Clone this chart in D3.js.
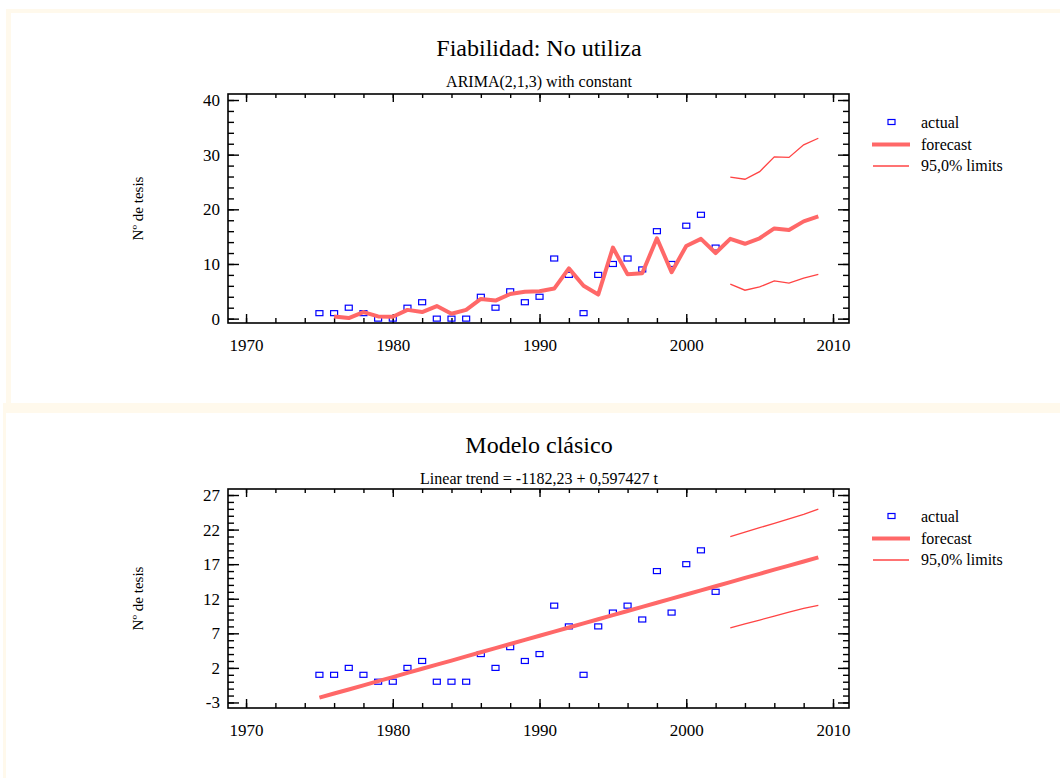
<!DOCTYPE html>
<html>
<head>
<meta charset="utf-8">
<script src="https://cdn.jsdelivr.net/npm/d3@7"></script>
<style>
  html, body { margin: 0; padding: 0; background: #ffffff; }
  svg { display: block; }
  text { font-family: "Liberation Serif", "Times New Roman", serif; fill: #000; }
</style>
</head>
<body>
<svg id="chart" width="1060" height="778"></svg>
<script>
// ---------- DATA ----------
const actualYears = [1975,1976,1977,1978,1979,1980,1981,1982,1983,1984,1985,1986,1987,1988,1989,1990,1991,1992,1993,1994,1995,1996,1997,1998,1999,2000,2001,2002];
const actualValues = [1,1,2,1,0,0,2,3,0,0,0,4,2,5,3,4,11,8,1,8,10,11,9,16,10,17,19,13];

const arimaYears = [1976,1977,1978,1979,1980,1981,1982,1983,1984,1985,1986,1987,1988,1989,1990,1991,1992,1993,1994,1995,1996,1997,1998,1999,2000,2001,2002,2003,2004,2005,2006,2007,2008,2009];
const arimaForecast = [0.4,0.1,1.2,0.4,0.35,1.6,1.2,2.3,0.9,1.6,3.6,3.3,4.5,4.9,5.0,5.5,9.2,6.0,4.4,13.0,8.1,8.3,14.7,8.5,13.3,14.6,12.0,14.6,13.7,14.7,16.5,16.2,17.8,18.7];

const limitYears = [2003,2004,2005,2006,2007,2008,2009];
const arimaUpper = [25.9,25.5,26.9,29.6,29.5,31.8,33.0];
const arimaLower = [6.3,5.2,5.8,6.9,6.5,7.4,8.1];

const trendYears = [1975,1976,1977,1978,1979,1980,1981,1982,1983,1984,1985,1986,1987,1988,1989,1990,1991,1992,1993,1994,1995,1996,1997,1998,1999,2000,2001,2002,2003,2004,2005,2006,2007,2008,2009];
const trendForecast = [-2.31,-1.71,-1.12,-0.52,0.08,0.67,1.27,1.87,2.47,3.06,3.66,4.26,4.85,5.45,6.05,6.65,7.24,7.84,8.44,9.03,9.63,10.23,10.83,11.42,12.02,12.62,13.21,13.81,14.41,15.01,15.60,16.20,16.80,17.39,17.99];
const trendUpper = [21.0,21.65,22.28,22.9,23.55,24.2,24.95];
const trendLower = [7.8,8.37,8.92,9.5,10.05,10.6,11.05];

const xTickValues = [1970,1980,1990,2000,2010];
const topYTickValues = [0,10,20,30,40];
const bottomYTickValues = [-3,2,7,12,17,22,27];

const legendLabels = ["actual", "forecast", "95,0% limits"];

// ---------- STYLE ----------
const cream = "#fff9ec";
const markerBlue = "#0000ff";
const forecastColor = "#ff6868";
const limitColor = "#ff4444";

const svg = d3.select("#chart");

// cream frame pieces
svg.append("rect").attr("x", 6).attr("y", 9).attr("width", 1054).attr("height", 4).attr("fill", cream);
svg.append("rect").attr("x", 6).attr("y", 9).attr("width", 5).attr("height", 394).attr("fill", cream);
svg.append("rect").attr("x", 3).attr("y", 403).attr("width", 1057).attr("height", 10).attr("fill", cream);
svg.append("rect").attr("x", 3).attr("y", 403).attr("width", 3).attr("height", 375).attr("fill", cream);

function panel(cfg) {
  const g = svg.append("g");
  const left = 228, right = 849;
  const top = cfg.top, bottom = cfg.bottom;

  const x = d3.scaleLinear().domain([1968.77, 2011.09]).range([left, right]);
  const y = d3.scaleLinear().domain(cfg.yDomain).range([bottom, top]);

  // titles
  g.append("text").attr("x", 539).attr("y", cfg.titleY).attr("text-anchor", "middle")
    .style("font-size", "24px").text(cfg.title);
  g.append("text").attr("x", 539).attr("y", cfg.subY).attr("text-anchor", "middle")
    .style("font-size", "16px").text(cfg.subtitle);

  // y label
  g.append("text")
    .attr("transform", `translate(143,${(top + bottom) / 2}) rotate(-90)`)
    .attr("text-anchor", "middle")
    .style("font-size", "15px")
    .text("Nº de tesis");

  const xMinor = d3.range(1970, 2011, 2);
  const yMinor = d3.range(cfg.yDomainTicks[0], cfg.yDomainTicks[1] + 0.001, cfg.yMinorStep);
  const plain = d => String(d);

  function addAxis(axis, transform) {
    const a = g.append("g").attr("transform", transform).call(axis);
    a.select(".domain").remove();
    a.selectAll("line").attr("stroke", "#000").attr("stroke-width", 1.4);
    a.selectAll("text").style("font-size", "17px").style("font-family", "Liberation Serif, serif").attr("fill", "#000");
    return a;
  }

  // bottom axis (labels + major)
  addAxis(d3.axisBottom(x).tickValues(xTickValues).tickFormat(plain).tickSizeInner(-9).tickSizeOuter(0).tickPadding(16),
    `translate(0,${bottom})`);
  addAxis(d3.axisBottom(x).tickValues(xMinor).tickFormat("").tickSizeInner(-5).tickSizeOuter(0), `translate(0,${bottom})`);
  // top axis
  addAxis(d3.axisTop(x).tickValues(xTickValues).tickFormat("").tickSizeInner(-8).tickSizeOuter(0), `translate(0,${top})`);
  addAxis(d3.axisTop(x).tickValues(xMinor).tickFormat("").tickSizeInner(-4).tickSizeOuter(0), `translate(0,${top})`);
  // left axis
  addAxis(d3.axisLeft(y).tickValues(cfg.yTicks).tickFormat(plain).tickSizeInner(-11).tickSizeOuter(0).tickPadding(8),
    `translate(${left},0)`);
  addAxis(d3.axisLeft(y).tickValues(yMinor).tickFormat("").tickSizeInner(-6).tickSizeOuter(0), `translate(${left},0)`);
  // right axis
  addAxis(d3.axisRight(y).tickValues(cfg.yTicks).tickFormat("").tickSizeInner(-11).tickSizeOuter(0), `translate(${right},0)`);
  addAxis(d3.axisRight(y).tickValues(yMinor).tickFormat("").tickSizeInner(-6).tickSizeOuter(0), `translate(${right},0)`);

  // frame
  g.append("rect").attr("x", left).attr("y", top).attr("width", right - left).attr("height", bottom - top)
    .attr("fill", "none").attr("stroke", "#000").attr("stroke-width", 1.6);

  // markers
  g.selectAll("rect.pt").data(actualYears.map((yr, i) => [yr, actualValues[i]])).enter()
    .append("rect").attr("class", "pt")
    .attr("x", d => x(d[0]) - 3.5).attr("y", d => y(d[1]) - 2.5)
    .attr("width", 7).attr("height", 5)
    .attr("fill", "none").attr("stroke", markerBlue).attr("stroke-width", 1.2);

  const line = d3.line().x(d => x(d[0])).y(d => y(d[1]));
  g.append("path").datum(cfg.fYears.map((yr, i) => [yr, cfg.forecast[i]]))
    .attr("d", line).attr("fill", "none").attr("stroke", forecastColor).attr("stroke-width", 4)
    .attr("stroke-linejoin", "round");
  [cfg.upper, cfg.lower].forEach(arr => {
    g.append("path").datum(limitYears.map((yr, i) => [yr, arr[i]]))
      .attr("d", line).attr("fill", "none").attr("stroke", limitColor).attr("stroke-width", 1.3);
  });

  // legend
  const ly = cfg.legendY;
  g.append("rect").attr("x", 888).attr("y", ly - 6 - 2.5).attr("width", 7).attr("height", 5)
    .attr("fill", "none").attr("stroke", markerBlue).attr("stroke-width", 1.2);
  g.append("line").attr("x1", 872).attr("x2", 910).attr("y1", ly + 16.5).attr("y2", ly + 16.5)
    .attr("stroke", forecastColor).attr("stroke-width", 4);
  g.append("line").attr("x1", 873).attr("x2", 909).attr("y1", ly + 38).attr("y2", ly + 38)
    .attr("stroke", limitColor).attr("stroke-width", 1.3);
  legendLabels.forEach((t, i) => {
    g.append("text").attr("x", 921).attr("y", ly + i * 21.7).style("font-size", "16px").text(t);
  });
}

panel({
  top: 94, bottom: 323, yDomain: [-0.8, 41.1], yTicks: topYTickValues, yDomainTicks: [0, 40], yMinorStep: 2,
  title: "Fiabilidad: No utiliza", subtitle: "ARIMA(2,1,3) with constant", titleY: 56, subY: 87,
  fYears: arimaYears, forecast: arimaForecast, upper: arimaUpper, lower: arimaLower, legendY: 128
});

panel({
  top: 489, bottom: 708, yDomain: [-3.8, 27.87], yTicks: bottomYTickValues, yDomainTicks: [-3, 27], yMinorStep: 1,
  title: "Modelo clásico", subtitle: "Linear trend = -1182,23 + 0,597427 t", titleY: 453, subY: 484,
  fYears: trendYears, forecast: trendForecast, upper: trendUpper, lower: trendLower, legendY: 522
});
</script>
</body>
</html>
